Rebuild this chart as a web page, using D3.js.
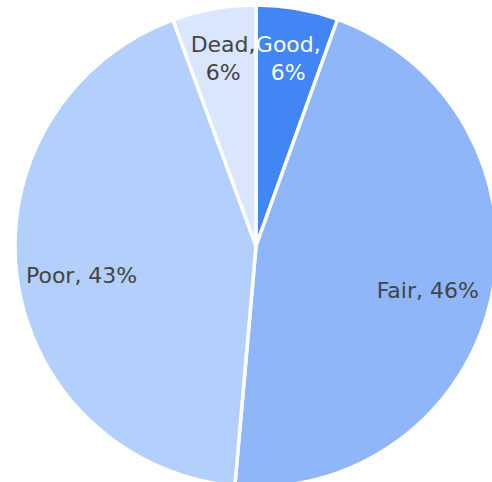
<!DOCTYPE html>
<html>
<head>
<meta charset="utf-8">
<script src="https://cdn.jsdelivr.net/npm/d3@7"></script>
<style>
  html, body { margin: 0; padding: 0; background: #fff; }
  svg { display: block; }
</style>
</head>
<body>
<svg id="chart" width="492" height="482"></svg>
<script>
// Tree condition shares
const categories = ["Good", "Fair", "Poor", "Dead"];
const values = [5.5, 45.9, 43.0, 5.6];
const colors = ["#4285f4", "#8fb6f9", "#b3cffb", "#d9e6fd"];
const labelColors = ["#ffffff", "#444444", "#444444", "#444444"];

const width = 492, height = 482;
const cx = 256, cy = 246, radius = 241;

const svg = d3.select("#chart");
const g = svg.append("g").attr("transform", `translate(${cx},${cy})`);

const data = categories.map((c, i) => ({ name: c, value: values[i], i }));
const total = d3.sum(values);

const pie = d3.pie().value(d => d.value).sort(null);
const arcs = pie(data);

const arc = d3.arc().innerRadius(0).outerRadius(radius);

g.selectAll("path.slice")
  .data(arcs)
  .join("path")
  .attr("class", "slice")
  .attr("d", arc)
  .attr("fill", d => colors[d.data.i])
  .attr("stroke", "#ffffff")
  .attr("stroke-width", 3.5)
  .attr("stroke-linejoin", "round");

// Labels: narrow slices get a two-line label placed further out
const fontSize = 22;
const lineH = 28;
arcs.forEach(d => {
  const pct = Math.round(d.data.value / total * 100) + "%";
  const narrow = (d.endAngle - d.startAngle) < 0.6;
  const r = narrow ? radius * 0.78 : radius * 0.73;
  const mid = (d.startAngle + d.endAngle) / 2;
  const x = Math.sin(mid) * r;
  const y = -Math.cos(mid) * r + (narrow ? -3 : 6);
  const lines = narrow ? [d.data.name + ",", pct] : [d.data.name + ", " + pct];
  const t = g.append("text")
    .attr("x", x)
    .attr("y", y)
    .attr("text-anchor", "middle")
    .attr("fill", labelColors[d.data.i])
    .style("font-family", "'DejaVu Sans', Verdana, sans-serif")
    .style("font-size", fontSize + "px");
  const offset0 = -(lines.length - 1) * lineH / 2;
  lines.forEach((ln, k) => {
    t.append("tspan")
      .attr("x", x)
      .attr("dy", k === 0 ? (offset0 + fontSize * 0.36) : lineH)
      .text(ln);
  });
});
</script>
</body>
</html>
